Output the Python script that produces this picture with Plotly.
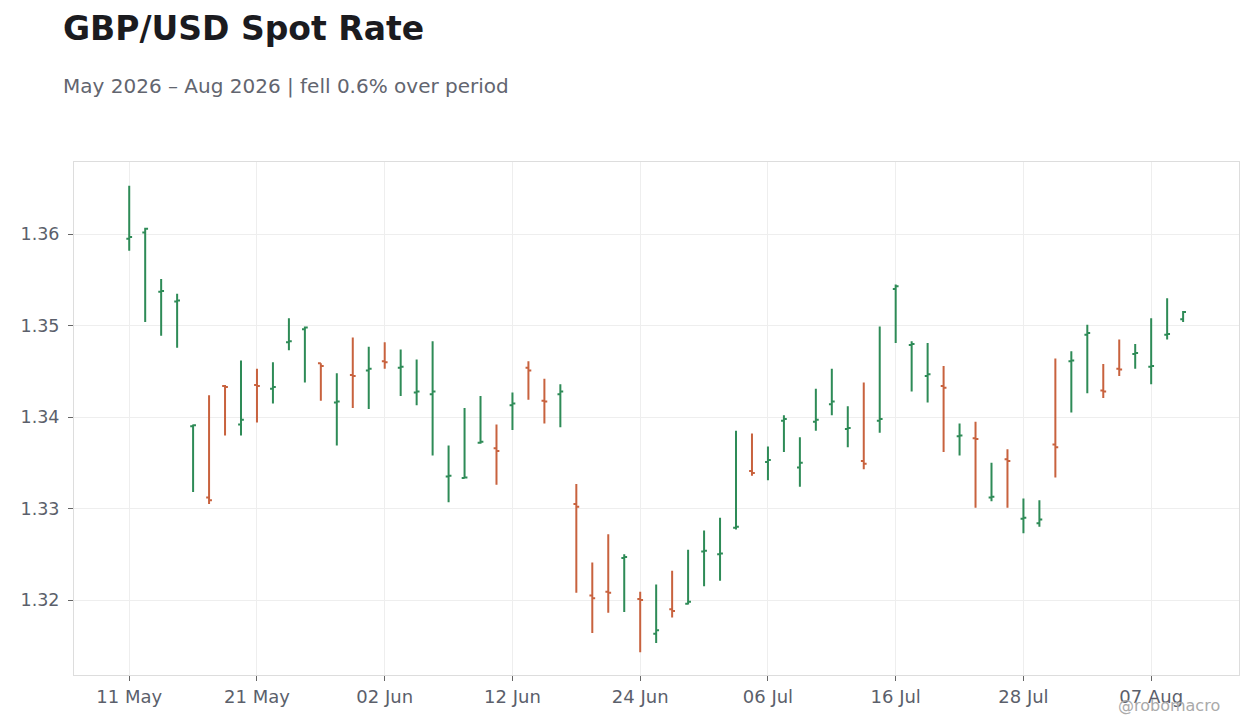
import pandas as pd
import plotly.graph_objects as go

start_date = "2026-05-11"
n_days = 67
dates = pd.bdate_range(start=start_date, periods=n_days)

opens = [1.3595, 1.3602, 1.3537, 1.35265, 1.3390, 1.3312, 1.3434, 1.3392, 1.3435, 1.3431,
         1.3482, 1.3496, 1.3459, 1.3416, 1.3446, 1.3451, 1.3461, 1.3454, 1.3427, 1.3425,
         1.3335, 1.33335, 1.3372, 1.3366, 1.3413, 1.3454, 1.3418, 1.3425, 1.3305, 1.3205,
         1.3209, 1.3246, 1.3201, 1.3163, 1.3190, 1.3196, 1.3253, 1.3250, 1.3279, 1.3341,
         1.3351, 1.3396, 1.3345, 1.3395, 1.3414, 1.3387, 1.3352, 1.3396, 1.3540, 1.3479,
         1.3445, 1.3434, 1.3379, 1.3377, 1.3312, 1.3354, 1.3289, 1.3284, 1.3370, 1.3461,
         1.3490, 1.3429, 1.3453, 1.3469, 1.3455, 1.3490, 1.3507]
highs = [1.3653, 1.3607, 1.3551, 1.3535, 1.3392, 1.3424, 1.3435, 1.3462, 1.3453, 1.3460,
         1.3508, 1.3499, 1.3459, 1.3448, 1.3487, 1.3477, 1.3482, 1.3474, 1.3463, 1.3483,
         1.3369, 1.3410, 1.3423, 1.3392, 1.3427, 1.3461, 1.3442, 1.3436, 1.3327, 1.3241,
         1.3272, 1.3250, 1.3209, 1.3217, 1.3232, 1.3255, 1.3276, 1.3290, 1.3385, 1.3382,
         1.3368, 1.3402, 1.3378, 1.3431, 1.3453, 1.3412, 1.3438, 1.3499, 1.3545, 1.3483,
         1.3481, 1.3456, 1.3393, 1.3395, 1.3350, 1.3365, 1.3311, 1.3309, 1.3464, 1.3472,
         1.3501, 1.3458, 1.3485, 1.3480, 1.3508, 1.3530, 1.3516]
lows = [1.3582, 1.3504, 1.3489, 1.3476, 1.3318, 1.3305, 1.3380, 1.3380, 1.3394, 1.3415,
        1.3473, 1.3438, 1.3418, 1.3369, 1.3410, 1.3409, 1.3453, 1.3423, 1.3413, 1.3358,
        1.3307, 1.3333, 1.3371, 1.3326, 1.3386, 1.3419, 1.3393, 1.3389, 1.3208, 1.3164,
        1.3186, 1.3187, 1.3143, 1.3153, 1.3181, 1.3195, 1.3215, 1.3221, 1.3277, 1.3336,
        1.3331, 1.3362, 1.3324, 1.3385, 1.3402, 1.3367, 1.3343, 1.3383, 1.3481, 1.3428,
        1.3416, 1.3362, 1.3358, 1.3301, 1.3308, 1.3301, 1.3273, 1.3280, 1.3334, 1.3405,
        1.3426, 1.3421, 1.3445, 1.3453, 1.3436, 1.3485, 1.3504]
closes = [1.3597, 1.3606, 1.3538, 1.35275, 1.3391, 1.3309, 1.3433, 1.3397, 1.3434, 1.3433,
          1.3483, 1.3498, 1.3456, 1.3417, 1.3445, 1.3453, 1.3460, 1.3455, 1.3428, 1.3428,
          1.3336, 1.3334, 1.3373, 1.3363, 1.3415, 1.3451, 1.3417, 1.3428, 1.3302, 1.3202,
          1.3208, 1.3247, 1.3200, 1.3167, 1.3188, 1.3198, 1.3254, 1.3251, 1.3280, 1.3339,
          1.3353, 1.3398, 1.3350, 1.3397, 1.3417, 1.3388, 1.3349, 1.3398, 1.3543, 1.3480,
          1.3447, 1.3432, 1.3380, 1.3376, 1.3313, 1.3352, 1.3290, 1.3288, 1.3367, 1.3462,
          1.3492, 1.3428, 1.3452, 1.3470, 1.3456, 1.3491, 1.3515]

tick_dates = ["2026-05-11", "2026-05-21", "2026-06-02", "2026-06-12", "2026-06-24",
              "2026-07-06", "2026-07-16", "2026-07-28", "2026-08-07"]
y_ticks = [1.32, 1.33, 1.34, 1.35, 1.36]

UP = "#2e8b57"
DOWN = "#c8623e"
FONT = "DejaVu Sans, sans-serif"
W, H = 1244, 712

fig = go.Figure(go.Ohlc(
    x=dates, open=opens, high=highs, low=lows, close=closes,
    increasing=dict(line=dict(color=UP, width=2)),
    decreasing=dict(line=dict(color=DOWN, width=2)),
    tickwidth=0.18,
    showlegend=False,
    hoverinfo="x+y",
))

fig.update_layout(
    width=W, height=H,
    margin=dict(l=66, r=13, t=154, b=45),
    paper_bgcolor="white",
    plot_bgcolor="white",
    font=dict(family=FONT, color="#5b5f6b", size=16),
    title=dict(
        text="<b>GBP/USD Spot Rate</b>",
        xref="container", x=55 / W, xanchor="left",
        yref="container", y=1 - 20 / H, yanchor="middle",
        font=dict(size=33, color="#1b1b1f", family=FONT),
    ),
    annotations=[
        dict(text="May 2026 – Aug 2026 | fell 0.6% over period",
             xref="paper", yref="paper", x=-0.0112, y=1.1481,
             xanchor="left", yanchor="middle", showarrow=False,
             font=dict(size=20, color="#62656f", family=FONT)),
        dict(text="@robomacro", xref="paper", yref="paper",
             x=0.9854, y=-0.0585, xanchor="right", yanchor="middle",
             showarrow=False, font=dict(size=16, color="#aaaaaa", family=FONT)),
    ],
    xaxis=dict(
        type="date",
        rangebreaks=[dict(bounds=["sat", "mon"])],
        range=["2026-05-05 13:00", "2026-08-14 12:00"],
        tickvals=tick_dates,
        tickformat="%d %b",
        ticks="outside", ticklen=5, tickcolor="#666666",
        showgrid=True, gridcolor="#eeeeee",
        showline=True, linecolor="#dddddd", mirror=True,
        rangeslider=dict(visible=False),
        tickfont=dict(size=18, color="#5b5f6b"),
        zeroline=False,
    ),
    yaxis=dict(
        range=[1.3118, 1.3679],
        tickvals=y_ticks,
        tickformat=".2f",
        ticks="outside", ticklen=5, tickcolor="#666666",
        ticklabelstandoff=5,
        showgrid=True, gridcolor="#eeeeee",
        showline=True, linecolor="#dddddd", mirror=True,
        tickfont=dict(size=17.5, color="#5b5f6b"),
        zeroline=False,
    ),
)

fig.write_html("out.html")
